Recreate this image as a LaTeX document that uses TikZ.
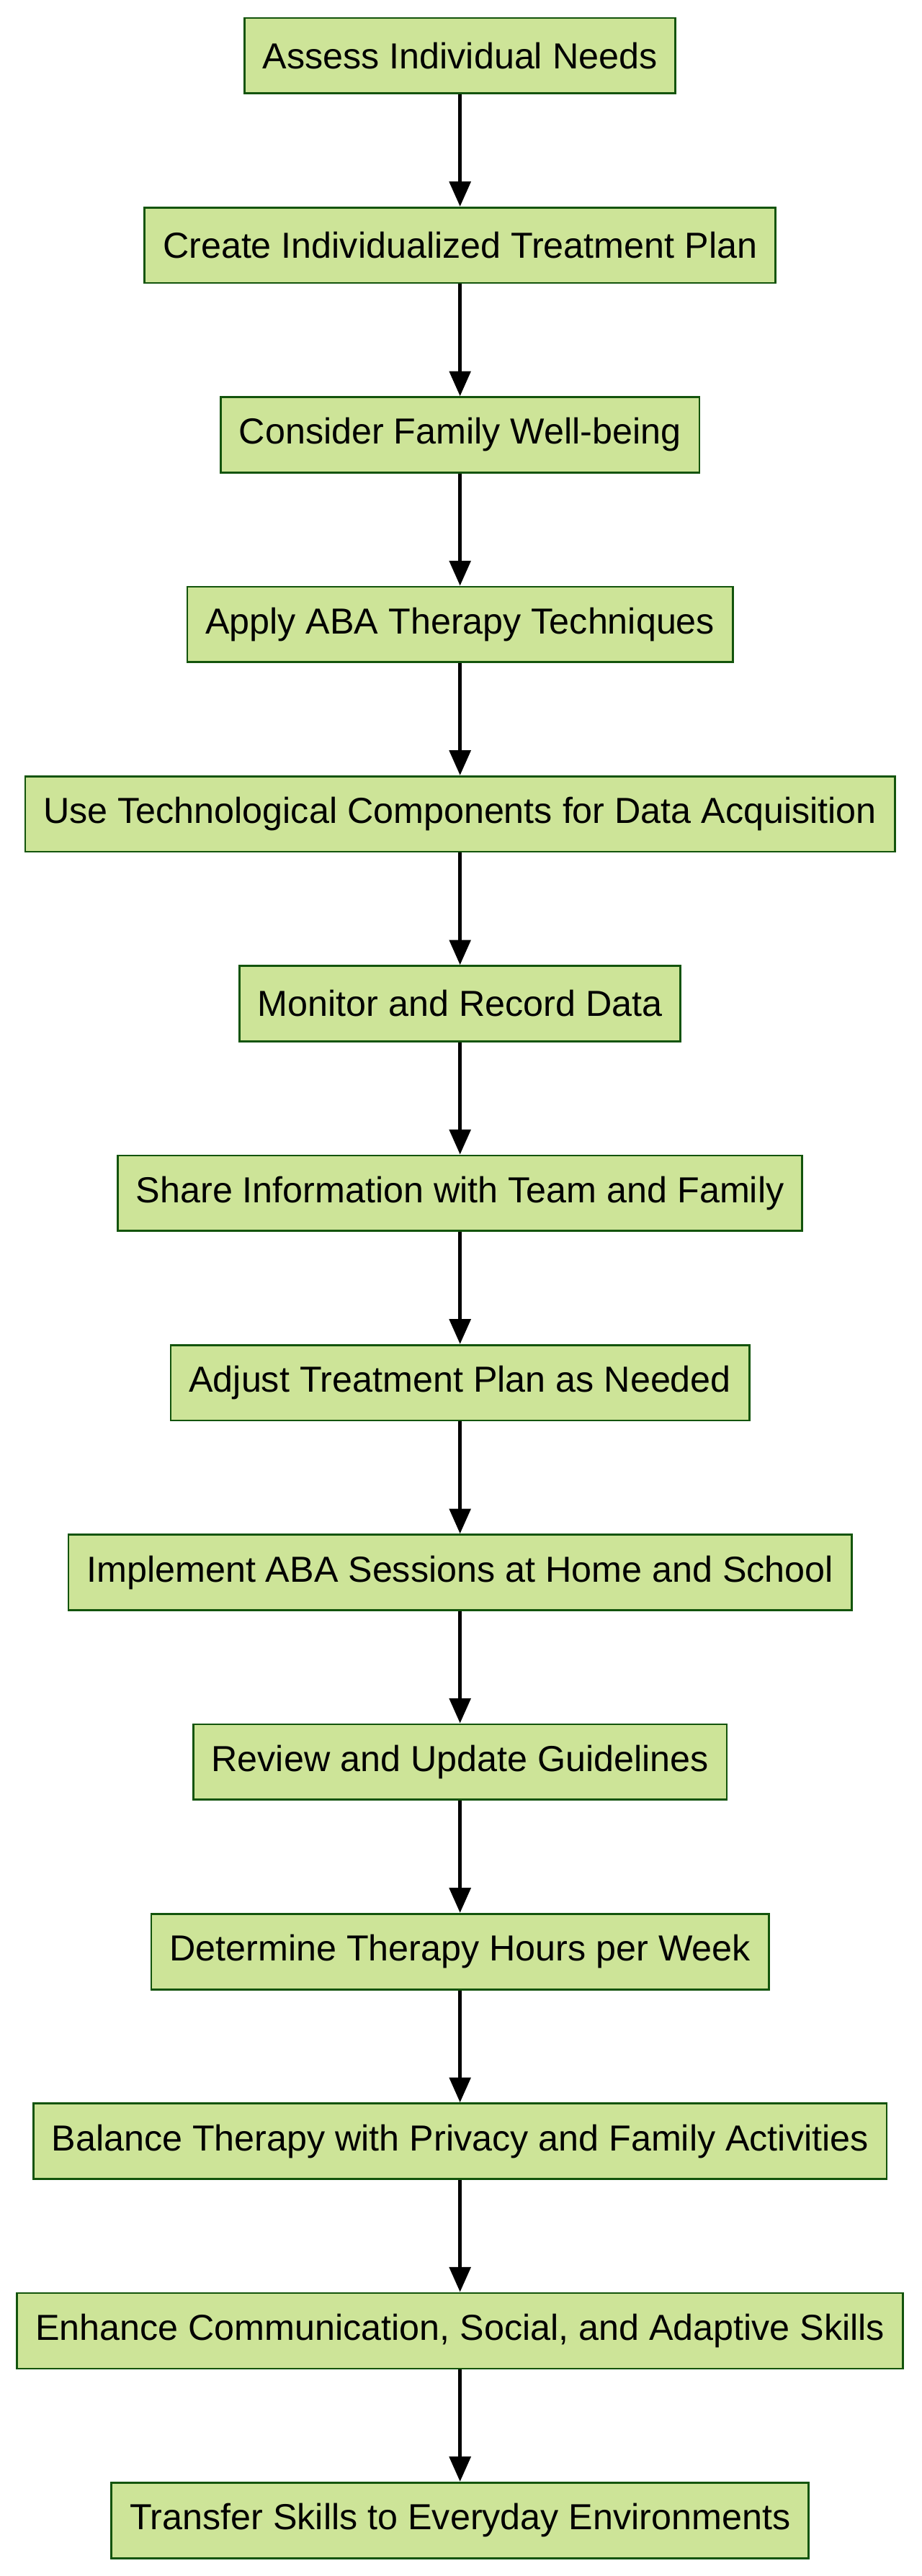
\documentclass[tikz,border=0pt]{standalone}
\usepackage{fontspec}
\setmainfont{Liberation Sans}
\usetikzlibrary{arrows.meta}
\begin{document}
\begin{tikzpicture}[x=1pt,y=1pt,
  box/.style={draw={rgb,255:red,19;green,84;blue,12}, fill={rgb,255:red,205;green,228;blue,152}, line width=2pt, minimum height=78.7pt, inner xsep=19pt, font=\fontsize{37.7}{44}\selectfont},
  arr/.style={line width=3.6pt, -{Triangle[length=26pt,width=22pt]}}]
\useasboundingbox (0,0) rectangle (960,-2683.5);
\foreach \t [count=\i from 0] in {Assess Individual Needs,Create Individualized Treatment Plan,Consider Family Well-being,Apply ABA Therapy Techniques,Use Technological Components for Data Acquisition,Monitor and Record Data,Share Information with Team and Family,Adjust Treatment Plan as Needed,Implement ABA Sessions at Home and School,Review and Update Guidelines,Determine Therapy Hours per Week,Balance Therapy with Privacy and Family Activities,{Enhance Communication, Social, and Adaptive Skills},Transfer Skills to Everyday Environments}
  \node[box] (n\i) at (479,{-58-\i*197.5}) {\t};
\foreach \i [evaluate=\i as \j using int(\i+1)] in {0,...,12}
  \draw[arr] (n\i) -- (n\j);
\end{tikzpicture}
\end{document}
